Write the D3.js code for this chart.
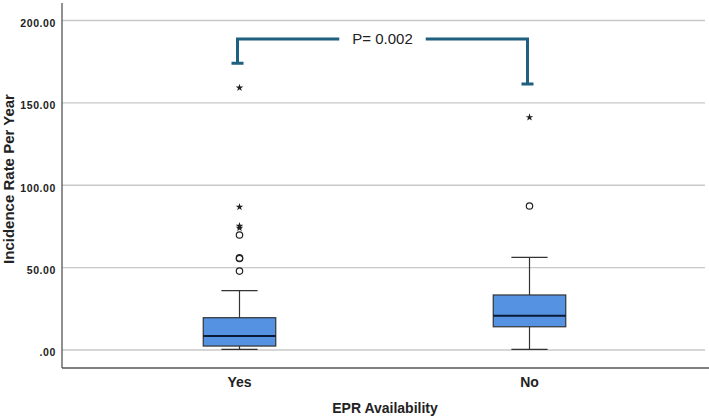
<!DOCTYPE html>
<html>
<head>
<meta charset="utf-8">
<script src="https://cdn.jsdelivr.net/npm/d3@7"></script>
<style>
  body { margin: 0; background: #fff; }
  svg { display: block; font-family: "Liberation Sans", Arial, Helvetica, sans-serif; }
</style>
</head>
<body>
<svg id="chart" width="709" height="416"></svg>
<script>
// ---- data ----
const categories = ["Yes", "No"];
const whiskerLow = [0.4, 0.4];
const q1 = [2.4, 14.1];
const median = [8.5, 20.8];
const q3 = [19.6, 33.4];
const whiskerHigh = [36.0, 56.2];
const circleOutliers = [[47.9, 55.5, 55.9, 69.8], [87.4]];
const starOutliers = [[74.0, 75.2, 86.8, 159.2], [141.2]];
const yTicks = [0, 50, 100, 150, 200];
const bracketTop = 188.8;
const bracketEnds = [174.0, 161.5];
const pLabel = "P= 0.002";
const xTitle = "EPR Availability";
const yTitle = "Incidence Rate Per Year";

// ---- layout ----
const W = 709, H = 416;
const plotLeft = 62, plotRight = 709, plotTop = 3, plotBottom = 368;
const svg = d3.select("#chart");

const y = d3.scaleLinear().domain([0, 200]).range([350, 20.5]);
const x = d3.scaleBand().domain(categories).range([94.5, 674.5]).padding(0);
const boxW = x.bandwidth() * 0.25;
const capW = boxW / 2;

// gridlines
svg.append("g").selectAll("line").data(yTicks).join("line")
  .attr("x1", plotLeft).attr("x2", 705)
  .attr("y1", d => y(d)).attr("y2", d => y(d))
  .attr("stroke", "#c8c8c8").attr("stroke-width", 1.3);

// axes frame
svg.append("line").attr("x1", plotLeft).attr("x2", plotLeft)
  .attr("y1", plotTop).attr("y2", plotBottom)
  .attr("stroke", "#555").attr("stroke-width", 1.3);
svg.append("line").attr("x1", plotLeft).attr("x2", plotRight)
  .attr("y1", plotBottom).attr("y2", plotBottom)
  .attr("stroke", "#555").attr("stroke-width", 1.3);

// y tick labels
const yAxis = d3.axisLeft(y).tickValues(yTicks).tickSize(0).tickPadding(6)
  .tickFormat(d => d === 0 ? ".00" : d3.format(".2f")(d));
const gy = svg.append("g").attr("transform", `translate(${plotLeft - 0},0)`).call(yAxis);
gy.select(".domain").remove();
gy.selectAll("text")
  .attr("font-size", 10.5).attr("font-weight", "bold")
  .attr("fill", "#222").attr("letter-spacing", 0.6)
  .attr("font-family", "'Liberation Sans', Arial, sans-serif")
  .attr("dy", "0.55em");

// x tick labels
const xAxis = d3.axisBottom(x).tickSize(0).tickPadding(0);
const gx = svg.append("g").attr("transform", `translate(0,${plotBottom})`).call(xAxis);
gx.select(".domain").remove();
gx.selectAll("text")
  .attr("font-size", 14).attr("font-weight", "bold").attr("fill", "#222")
  .attr("font-family", "'Liberation Sans', Arial, sans-serif")
  .attr("y", 19).attr("dy", 0);

// axis titles
svg.append("text").attr("x", 385).attr("y", 413)
  .attr("text-anchor", "middle").attr("font-size", 14).attr("font-weight", "bold")
  .attr("fill", "#222").text(xTitle);
svg.append("text")
  .attr("transform", "translate(14,179) rotate(-90)")
  .attr("text-anchor", "middle").attr("font-size", 15).attr("font-weight", "bold")
  .attr("fill", "#222").text(yTitle);

// boxes
const idx = d3.range(categories.length);
const boxes = svg.append("g").selectAll("g").data(idx).join("g");
const cx = i => x(categories[i]) + x.bandwidth() / 2;

// whiskers
boxes.append("line")
  .attr("x1", i => cx(i)).attr("x2", i => cx(i))
  .attr("y1", i => y(whiskerLow[i])).attr("y2", i => y(whiskerHigh[i]))
  .attr("stroke", "#333").attr("stroke-width", 1.2);
boxes.append("line")
  .attr("x1", i => cx(i) - capW / 2).attr("x2", i => cx(i) + capW / 2)
  .attr("y1", i => y(whiskerHigh[i])).attr("y2", i => y(whiskerHigh[i]))
  .attr("stroke", "#333").attr("stroke-width", 1.2);
boxes.append("line")
  .attr("x1", i => cx(i) - capW / 2).attr("x2", i => cx(i) + capW / 2)
  .attr("y1", i => y(whiskerLow[i])).attr("y2", i => y(whiskerLow[i]))
  .attr("stroke", "#333").attr("stroke-width", 1.2);
// box
boxes.append("rect")
  .attr("x", i => cx(i) - boxW / 2).attr("width", boxW)
  .attr("y", i => y(q3[i])).attr("height", i => y(q1[i]) - y(q3[i]))
  .attr("fill", "#5592e2").attr("stroke", "#333").attr("stroke-width", 1.2);
// median
boxes.append("line")
  .attr("x1", i => cx(i) - boxW / 2).attr("x2", i => cx(i) + boxW / 2)
  .attr("y1", i => y(median[i])).attr("y2", i => y(median[i]))
  .attr("stroke", "#0b1a33").attr("stroke-width", 2.2);

// outliers
idx.forEach(i => {
  svg.append("g").selectAll("circle").data(circleOutliers[i]).join("circle")
    .attr("cx", cx(i)).attr("cy", d => y(d)).attr("r", 3.2)
    .attr("fill", "none").attr("stroke", "#222").attr("stroke-width", 1.2);
  svg.append("g").selectAll("path").data(starOutliers[i]).join("path")
    .attr("transform", d => `translate(${cx(i)},${y(d)})`)
    .attr("d", d3.symbol(d3.symbolStar, 18))
    .attr("fill", "#222");
});

// significance bracket
const bx = idx.map(i => cx(i) - 2);
const bracketColor = "#1f5f7f";
const ptext = svg.append("text").attr("x", (bx[0] + bx[1]) / 2)
  .attr("y", y(bracketTop) + 5.5)
  .attr("text-anchor", "middle").attr("font-size", 15)
  .attr("font-family", "'Liberation Sans', Arial, sans-serif")
  .attr("fill", "#222").text(pLabel);
const tb = ptext.node().getBBox();
const gap = 13;
const bg = svg.append("g").attr("fill", "none").attr("stroke", bracketColor)
  .attr("stroke-width", 3);
bg.append("path").attr("d",
  `M${bx[0] - 6},${y(bracketEnds[0])}H${bx[0] + 6}` +
  `M${bx[0]},${y(bracketEnds[0])}V${y(bracketTop)}H${tb.x - gap}`);
bg.append("path").attr("d",
  `M${tb.x + tb.width + gap},${y(bracketTop)}H${bx[1]}V${y(bracketEnds[1])}` +
  `M${bx[1] - 6},${y(bracketEnds[1])}H${bx[1] + 6}`);
</script>
</body>
</html>
